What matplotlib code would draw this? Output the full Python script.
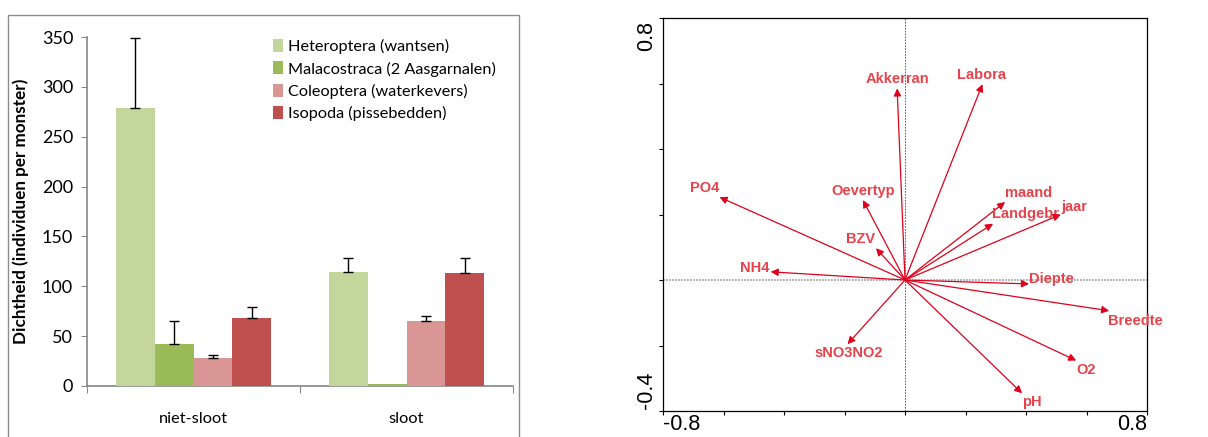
import numpy as np
import matplotlib
matplotlib.use("Agg")
import matplotlib.pyplot as plt
from matplotlib.patches import Rectangle

# Data ---------------------------------------------------------------------

groups = ["niet-sloot", "sloot"]
taxa = ["Heteroptera (wantsen)", "Malacostraca (2 Aasgarnalen)",
        "Coleoptera (waterkevers)", "Isopoda (pissebedden)"]
density = [[279, 114],   # Heteroptera
           [42, 2],      # Malacostraca
           [28, 65],     # Coleoptera
           [68, 113]]    # Isopoda
density_err = [[70, 14],
               [23, 0],
               [3, 5],
               [11, 15]]

env_vars = ["Akkerran", "Labora", "PO4", "Oevertyp", "BZV", "NH4", "maand",
            "Landgebr", "jaar", "Diepte", "Breedte", "O2", "pH", "sNO3NO2"]
ax1_score = [-0.026, 0.256, -0.613, -0.139, -0.096, -0.444, 0.331,
             0.291, 0.515, 0.410, 0.675, 0.566, 0.387, -0.190]
ax2_score = [0.585, 0.598, 0.253, 0.244, 0.097, 0.025, 0.238,
             0.172, 0.200, -0.012, -0.094, -0.246, -0.346, -0.196]

# Styling ------------------------------------------------------------------

bar_colors = ["#C3D69B", "#9BBB59", "#D99694", "#C0504D"]
# label offset from the arrow tip, in pixels
label_offsets = [(0, 9), (-1, 9), (-15, 9), (0, 9), (-15, 9), (-16, 4), (23, 9),
                 (32, 10), (13, 8), (22, 5), (26, -10), (10, -9), (10, -9), (1, -9)]

fig = plt.figure(figsize=(12.08, 4.37), dpi=100)

# Bar chart -----------------------------------------------------------------

frame = Rectangle((8 / 1208, -0.05), (519 - 8) / 1208, 1 - 15 / 437 + 0.05,
                  transform=fig.transFigure, fill=False, edgecolor="#8C8C8C",
                  linewidth=1.0)
fig.patches.append(frame)

ax = fig.add_axes([87 / 1208, 1 - 386 / 437, 426 / 1208, 349 / 437])
font = "Lato"
grey = "#868686"
width = 0.183
x = np.arange(len(groups))
for i, (name, vals, errs, col) in enumerate(zip(taxa, density, density_err, bar_colors)):
    pos = x + (i - 1.5) * width
    ax.bar(pos, vals, width, color=col, label=name, zorder=3)
    show = np.array(errs) > 0
    ax.errorbar(pos[show], np.array(vals)[show],
                yerr=[np.zeros(show.sum()), np.array(errs)[show]],
                fmt="none", ecolor="black", elinewidth=1.0, capsize=3.5,
                capthick=1.0, zorder=4)

ax.set_xlim(-0.5, 1.5)
ax.set_ylim(0, 350)
ax.set_yticks(np.arange(0, 351, 50))
ax.set_xticks([-0.5, 0.5, 1.5])
ax.set_xticklabels([])
ax.set_xticks(x, minor=True)
ax.set_xticklabels(groups, minor=True, fontsize=11.8, family=font)
ax.tick_params(axis="x", which="minor", length=0, pad=19)
ax.tick_params(axis="x", which="major", length=5, color=grey, direction="out")
ax.tick_params(axis="y", length=4, color=grey, labelsize=13, pad=6)
for lab in ax.get_yticklabels():
    lab.set_family(font)
for side in ["top", "right"]:
    ax.spines[side].set_visible(False)
for side in ["left", "bottom"]:
    ax.spines[side].set_color(grey)
    ax.spines[side].set_linewidth(1.2)
ax.spines["bottom"].set_zorder(2)
ax.set_ylabel("Dichtheid (individuen per monster)", fontsize=12.3,
              fontweight="bold", family=font, labelpad=9)

ax.legend(loc="upper left", bbox_to_anchor=(0.414, 1.022), frameon=False,
          prop={"family": font, "size": 11.7}, handlelength=0.62,
          handleheight=0.85, handletextpad=0.32, labelspacing=0.45,
          borderaxespad=0.2)

# Ordination biplot ---------------------------------------------------------

ax2 = fig.add_axes([663 / 1208, 1 - 411 / 437, 484 / 1208, 393 / 437])
ax2.set_xlim(-0.8, 0.8)
ax2.set_ylim(-0.4, 0.8)
ax2.axvline(0, color="#444444", linestyle=(0, (2, 1.5)), linewidth=0.6, zorder=1)
ax2.axhline(0, color="#9A9A9A", linestyle=(0, (1, 0.8)), linewidth=1.2, zorder=1)

arrow_col = "#E0001B"
text_col = "#E8434A"
for name, px, py, off in zip(env_vars, ax1_score, ax2_score, label_offsets):
    ax2.annotate("", xy=(px, py), xytext=(0, 0),
                 arrowprops=dict(arrowstyle="-|>", color=arrow_col, lw=0.9,
                                 mutation_scale=11, shrinkA=0, shrinkB=0))
    ax2.annotate(name, xy=(px, py), xytext=off, textcoords="offset pixels",
                 ha="center", va="center", color=text_col, fontsize=10.5,
                 fontweight="bold", family="Liberation Sans",
                 annotation_clip=False)

ax2.set_xticks(np.arange(-0.8, 0.81, 0.2))
ax2.set_yticks(np.arange(-0.4, 0.81, 0.2))
ax2.set_xticklabels([])
ax2.set_yticklabels([])
ax2.tick_params(length=3, width=0.8, direction="out")
for s in ax2.spines.values():
    s.set_linewidth(0.9)

tick_font = dict(family="Liberation Sans", fontsize=15.5)
ax2.text(-0.8, -0.41, "-0.8", ha="left", va="top", **tick_font)
ax2.text(0.8, -0.41, "0.8", ha="right", va="top", **tick_font)
ax2.text(-0.855, 0.79, "0.8", ha="center", va="top", rotation=90, **tick_font)
ax2.text(-0.855, -0.395, "-0.4", ha="center", va="bottom", rotation=90, **tick_font)

fig.savefig("out.png", dpi=100)
